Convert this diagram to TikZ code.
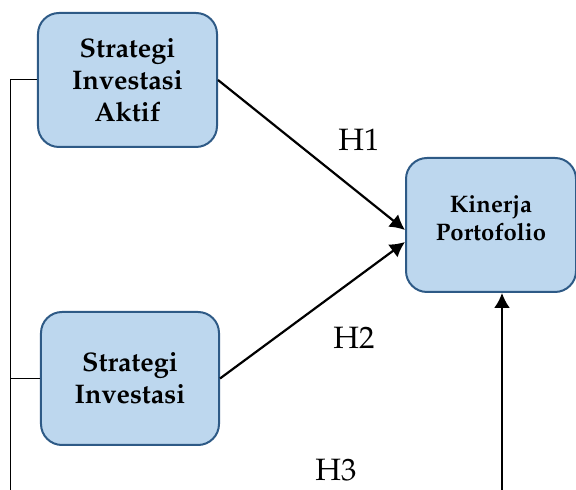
\documentclass[tikz,border=0pt]{standalone}
\usepackage[T1]{fontenc}
\usepackage{mathpazo}
\usepackage{tikz}
\usetikzlibrary{arrows.meta,calc}

\begin{document}
\begin{tikzpicture}[x=1bp,y=1bp]
  % Colors
  \definecolor{boxfill}{HTML}{BDD7EE}
  \definecolor{boxline}{HTML}{2E5A86}

  % Styles
  \tikzstyle{varbox}=[draw=boxline,fill=boxfill,line width=2bp,rounded corners=21bp,
    align=center,font=\bfseries\fontsize{27}{32}\selectfont]
  \tikzstyle{path arrow}=[line width=2.2bp,-{Latex[length=15bp,width=16bp]}]
  \tikzstyle{hyp}=[font=\fontsize{31}{36}\selectfont]

  \useasboundingbox (0,0) rectangle (576,490);

  % The boxes
  \node[varbox,minimum width=179bp,minimum height=134bp] (aktif) at (127.5,410)
    {Strategi\\Investasi\\Aktif};
  \node[varbox,minimum width=178bp,minimum height=133bp] (pasif) at (130,111.5)
    {Strategi\\Investasi};
  \node[varbox,minimum width=170bp,minimum height=134bp,
    font=\bfseries\fontsize{24}{28}\selectfont] (kinerja) at (491,265)
    {Kinerja\\Portofolio\\[-15bp]};

  % The bracket on the left
  \coordinate (rail) at (10,0);
  \draw[line width=1bp] (aktif.west) -| (rail);
  \draw[line width=1bp] (pasif.west) -- (pasif.west -| rail);

  % The hypotheses
  \draw[path arrow] (aktif.east) -- ([yshift=-5bp]kinerja.west);
  \draw[path arrow] (pasif.east) -- ([yshift=-17bp]kinerja.west);
  \coordinate (h3) at (502,0);
  \draw[path arrow] (h3) -- (h3 |- kinerja.south);

  \node[hyp] (h1label) at (359,350) {H1};
  \node[hyp] (h2label) at (354,152) {H2};
  \node[hyp] (h3label) at (336,20) {H3};

\end{tikzpicture}
\end{document}
